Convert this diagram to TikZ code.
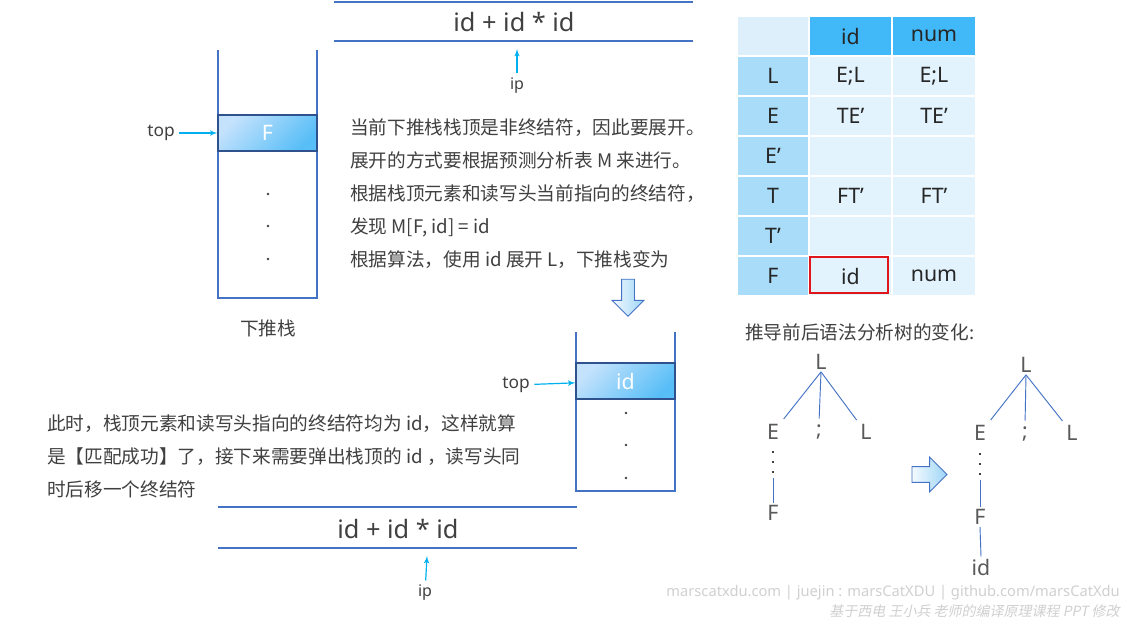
\documentclass[tikz,border=0pt]{standalone}
\usepackage{fontspec}
\setmainfont{Noto Sans}
\newfontfamily\cjk{Noto Sans CJK SC}
\newfontfamily\cjkslant{Noto Sans CJK SC}[FakeSlant=0.2]
\usepackage{tikz}
\usetikzlibrary{arrows}
\usetikzlibrary{shapes.arrows}
\usetikzlibrary{positioning}

\definecolor{lineblue}{HTML}{4472C4}
\definecolor{topedge}{HTML}{2F528F}
\definecolor{txtgray}{HTML}{404040}
\definecolor{treegray}{HTML}{595959}
\definecolor{dotgray}{HTML}{404040}
\definecolor{ptrcyan}{HTML}{00B0F0}
\definecolor{celllight}{HTML}{C4E2FC}
\definecolor{celldark}{HTML}{58BEF7}
\definecolor{hdrblue}{HTML}{41B8F8}
\definecolor{colblue}{HTML}{A9DCF8}
\definecolor{cellblue}{HTML}{E2F3FD}
\definecolor{cornerblue}{HTML}{DCEFFB}
\definecolor{tabtext}{HTML}{262626}
\definecolor{selred}{HTML}{E0161C}
\definecolor{arrowlight}{HTML}{F4FAFF}
\definecolor{arrowdark}{HTML}{9DD5F6}
\definecolor{wmgray}{HTML}{D0D0D0}

\begin{document}
\begin{tikzpicture}[x = 0.75pt, y = -0.75pt,
    stackline/.style = {lineblue, line width = 0.9pt},
    treeline/.style = {lineblue, line width = 0.7pt},
    dotline/.style = {dotgray, line width = 1.6pt, dash pattern = on 1.6pt off 6pt},
    ptr/.style = {-latex', ptrcyan, line width = 0.9pt},
    topcell/.style = {draw = topedge, line width = 0.9pt, minimum width = 74.25pt,
        minimum height = 27pt, inner sep = 0, left color = celllight,
        right color = celldark, shading angle = 45, text = white,
        font = \fontsize{16}{16}\selectfont},
    ptrlabel/.style = {text = txtgray, font = \fontsize{13}{13}\selectfont},
    iplabel/.style = {text = txtgray, font = \fontsize{12}{12}\selectfont},
    tape/.style = {text = txtgray, font = \fontsize{19}{19}\selectfont},
    cjktext/.style = {text = txtgray, font = \cjk\fontsize{14}{24.75}\selectfont,
        align = left, inner sep = 0},
    tcell/.style = {draw = white, line width = 1pt, minimum height = 30pt,
        inner sep = 0, text = tabtext, font = \fontsize{16}{16}\selectfont},
    tnode/.style = {text = treegray, inner sep = 1.5pt,
        font = \fontsize{16}{16}\selectfont},
    blockarrow/.style = {single arrow, draw = lineblue, line width = 0.7pt,
        single arrow head indent = 0},
    wmark/.style = {text = wmgray, anchor = east, inner sep = 0}
]
    \fill[white] (0, 0) rectangle (1134, 622);
    \useasboundingbox (0, 0) rectangle (1134, 622);

    %% stack before
    \draw[stackline] (218, 50) -- (218, 298) -- (317, 298) -- (317, 50);
    \node[topcell] (cellF) at (267.5, 133) {F};
    \node[ptrlabel] (top1) at (161, 133) {top};
    \draw[ptr] (top1) -- (cellF);
    \foreach \y in {194, 226, 259}
        \fill[dotgray] (268, \y) circle[radius = 1.3];
    \node[cjktext] (stk1) at (268, 328) {下推栈};

    %% input before
    \draw[stackline] (334, 2) -- (693, 2);
    \draw[stackline] (334, 41) -- (693, 41);
    \node[tape] (in1) at (514, 22) {id + id * id};
    \node[iplabel] (ip1) at (517, 86) {ip};
    \coordinate (ip1tip) at (517, 49);
    \draw[ptr] (ip1) -- (ip1tip);

    %% explanation
    \node[cjktext, anchor = north west] (para1) at (350, 118)
        {当前下推栈栈顶是非终结符，因此要展开。\\
         展开的方式要根据预测分析表 M 来进行。\\
         根据栈顶元素和读写头当前指向的终结符，\\
         发现 M[F, id] = id\\
         根据算法，使用 id 展开 L，下推栈变为};
    \node[blockarrow, shape border rotate = 270, minimum height = 27.75pt,
        inner xsep = 4.5pt, inner ysep = 0, minimum width = 20.25pt,
        left color = arrowlight, right color = arrowdark] (down) at (628, 294.5) {};

    %% stack after
    \draw[stackline] (576, 332) -- (576, 491) -- (675, 491) -- (675, 332);
    \node[topcell] (cellid) at (625.5, 381) {id};
    \node[ptrlabel] (top2) at (516, 385) {top};
    \draw[ptr] (top2) -- (cellid);
    \foreach \y in {413, 445, 478}
        \fill[dotgray] (626, \y) circle[radius = 1.3];

    \node[cjktext, anchor = north west] (para2) at (47, 414)
        {此时，栈顶元素和读写头指向的终结符均为 id，这样就算\\
         是【匹配成功】了，接下来需要弹出栈顶的 id ，读写头同\\
         时后移一个终结符};

    %% input after
    \draw[stackline] (218, 507) -- (577, 507);
    \draw[stackline] (218, 548) -- (577, 548);
    \node[tape] (in2) at (398, 529) {id + id * id};
    \node[iplabel] (ip2) at (425, 593) {ip};
    \coordinate (ip2tip) at (427, 556);
    \draw[ptr] (ip2) -- (ip2tip);

    %% table M
    \node[tcell, fill = cornerblue, minimum width = 54pt] (h0) at (773, 36) {};
    \node[tcell, fill = hdrblue, minimum width = 62.25pt] (hid) at (850.5, 36) {id};
    \node[tcell, fill = hdrblue, minimum width = 63pt] (hnum) at (934, 36) {num};
    \foreach \nt/\ca/\cb [count = \k] in
        {L/{E;L}/{E;L}, E/TE’/TE’, E’/{}/{}, T/FT’/FT’, T’/{}/{}, F/id/num} {
        \node[tcell, fill = colblue, minimum width = 54pt] (r\k) at (773, {36 + 40*\k}) {\nt};
        \node[tcell, fill = cellblue, minimum width = 62.25pt] (a\k) at (850.5, {36 + 40*\k}) {\ca};
        \node[tcell, fill = cellblue, minimum width = 63pt] (b\k) at (934, {36 + 40*\k}) {\cb};
    }
    \node[draw = selred, line width = 1.5pt, minimum width = 58.5pt,
        minimum height = 26.5pt, inner sep = 0] (sel) at (848.5, 275) {};

    %% parse trees
    \node[cjktext, anchor = west] (treecap) at (745, 332) {推导前后语法分析树的变化:};

    \node[tnode] (lL) at (821, 362) {L};
    \node[tnode] (lE) at (773, 432) {E};
    \node[tnode] (lS) at (819, 432) {;};
    \node[tnode] (lL2) at (866, 432) {L};
    \node[tnode] (lF) at (773, 513) {F};
    \coordinate (ldot) at (773, 451);
    \coordinate (lmid) at (773, 478);
    \draw[treeline, shorten > = 3pt] (lL.south) -- (lE.north east);
    \draw[treeline, shorten > = 3pt] (lL.south) -- (lS.north);
    \draw[treeline, shorten > = 2pt] (lL.south) -- (lL2.north west);
    \draw[dotline] (ldot) -- (lmid);
    \draw[treeline] (lmid) -- (lF.north);

    \node[blockarrow, minimum height = 26.25pt, inner xsep = 0, inner ysep = 5.6pt,
        minimum width = 18.75pt, left color = arrowlight,
        right color = arrowdark] (right) at (925.5, 474.5) {};

    \node[tnode] (rL) at (1026, 365) {L};
    \node[tnode] (rE) at (980, 433) {E};
    \node[tnode] (rS) at (1025, 434) {;};
    \node[tnode] (rL2) at (1072, 433) {L};
    \node[tnode] (rF) at (980, 517) {F};
    \node[tnode] (rid) at (981, 567) {id};
    \coordinate (rdot) at (980, 453);
    \coordinate (rmid) at (980, 480);
    \draw[treeline, shorten > = 3pt] (rL.south) -- (rE.north east);
    \draw[treeline, shorten > = 3pt] (rL.south) -- (rS.north);
    \draw[treeline, shorten > = 2pt] (rL.south) -- (rL2.north west);
    \draw[dotline] (rdot) -- (rmid);
    \draw[treeline] (rmid) -- (rF.north);
    \draw[treeline] (rF.south) -- (rid.north);

    %% footer
    \node[wmark, font = \fontsize{11}{11}\selectfont] (wm1) at (1120, 593)
        {marscatxdu.com | juejin : marsCatXDU | github.com/marsCatXdu};
    \node[wmark, font = \cjkslant\fontsize{10.5}{10.5}\selectfont] (wm2) at (1120, 611)
        {基于西电 王小兵 老师的编译原理课程 PPT 修改};
\end{tikzpicture}
\end{document}
